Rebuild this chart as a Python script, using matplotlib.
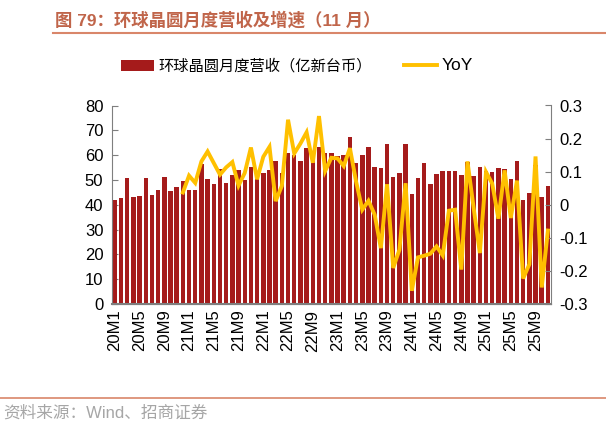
import numpy as np
import matplotlib
matplotlib.use("Agg")
import matplotlib.pyplot as plt
from matplotlib.lines import Line2D
from matplotlib.patches import Patch
from matplotlib.ticker import FuncFormatter

plt.rcParams['font.family'] = ['Liberation Sans', 'Noto Sans CJK SC', 'DejaVu Sans']

# 月份标签 20M1 ... 25M11
months = [f"{y}M{m}" for y in range(20, 26) for m in range(1, 13)][:71]

# 环球晶圆月度营收（亿新台币）
revenue = [42.1, 42.9, 50.7, 43.3, 43.7, 50.8, 43.9, 45.8, 51.2, 45.4, 47.1, 49.5,
           45.8, 45.8, 56.6, 50.2, 48.3, 54.3, 48.6, 51.8, 53.9, 49.9, 55.2, 53.0,
           52.7, 54.0, 57.7, 52.9, 60.7, 60.0, 57.6, 63.0, 60.6, 63.3, 60.7, 61.0,
           59.6, 60.0, 67.4, 56.7, 59.9, 63.3, 55.3, 54.8, 64.6, 51.2, 52.6, 64.6,
           44.3, 50.6, 56.9, 48.2, 52.2, 53.6, 53.8, 53.8, 51.8, 57.3, 51.5, 55.1,
           53.5, 53.4, 54.7, 54.3, 50.3, 57.5, 42.0, 44.6, 56.0, 43.2, 47.5]

# YoY（20M12 起）
yoy = [np.nan] * 11 + [
    0.037,
    0.088, 0.066, 0.131, 0.161, 0.126, 0.091, 0.113, 0.129, 0.058, 0.096, 0.173, 0.077,
    0.145, 0.175, 0.011, 0.057, 0.257, 0.155, 0.185, 0.219, 0.127, 0.268, 0.102, 0.142,
    0.140, 0.117, 0.171, 0.070, -0.015, 0.012, -0.030, -0.131, 0.062, -0.191, -0.136, 0.065,
    -0.260, -0.159, -0.154, -0.148, -0.126, -0.153, -0.018, -0.015, -0.196, 0.131, -0.010, -0.146,
    0.099, 0.064, -0.042, 0.104, -0.040, 0.073, -0.223, -0.180, 0.146, -0.250, -0.078]

bar_color = '#A51B1B'
line_color = '#FFC000'
title_color = '#C0654A'
rule_color = '#D9866A'
axis_gray = '#7F7F7F'

x = np.arange(len(months))

fig = plt.figure(figsize=(6.06, 4.33), dpi=100)
ax = fig.add_axes([111.7 / 606, 1 - 304 / 433, (551 - 111.7) / 606, (304 - 105.5) / 433])
ax2 = ax.twinx()

bars = ax.bar(x, revenue, width=0.72, color=bar_color, zorder=2)
line, = ax2.plot(x, yoy, color=line_color, lw=2.8, solid_joinstyle='miter', zorder=3)

ax.set_xlim(-0.5, len(months) - 0.5)
ax.set_ylim(0, 80)
ax.set_yticks(range(0, 81, 10))
ax2.set_ylim(-0.3, 0.3)
ax2.set_yticks([-0.3, -0.2, -0.1, 0, 0.1, 0.2, 0.3])
ax2.yaxis.set_major_formatter(FuncFormatter(lambda v, p: "0" if abs(v) < 1e-9 else f"{v:.1f}"))

ax.set_xticks(x[::4])
ax.set_xticklabels(months[::4], rotation=90, fontsize=12)
ax.set_xticks(x, minor=True)

for a in (ax, ax2):
    a.spines['top'].set_visible(False)
    for s in ('left', 'right', 'bottom'):
        a.spines[s].set_color(axis_gray)
    a.tick_params(axis='y', direction='in', length=4, color=axis_gray, labelsize=12, pad=6)
ax.spines['right'].set_visible(False)
ax2.spines['left'].set_visible(False)
ax.spines['bottom'].set_linewidth(1.5)
ax.tick_params(axis='x', which='both', direction='in', length=3, color=axis_gray, pad=4)

handles = [Patch(facecolor=bar_color, edgecolor='none'),
           Line2D([], [], color=line_color, lw=2.8)]
labels = ['环球晶圆月度营收（亿新台币）', 'YoY']
leg = fig.legend(handles, labels, loc='center', bbox_to_anchor=(0.49, 1 - 66 / 433), ncol=2,
                 frameon=False, fontsize=11, handlelength=2.15, handleheight=0.7,
                 handletextpad=0.3, columnspacing=2.1)
leg.get_texts()[1].set_fontsize(12.5)

fig.text(55 / 606, 1 - 20 / 433, '图 79：环球晶圆月度营收及增速（11 月）', fontsize=12.5,
         fontweight='bold', color=title_color, va='center', ha='left')
fig.add_artist(Line2D([53 / 606, 1], [1 - 33 / 433, 1 - 33 / 433], transform=fig.transFigure,
                      color=rule_color, lw=1.5))
fig.add_artist(Line2D([0, 1], [1 - 398 / 433, 1 - 398 / 433], transform=fig.transFigure,
                      color=rule_color, lw=1.2))
fig.text(3 / 606, 1 - 413 / 433, '资料来源：Wind、招商证券', fontsize=12, color='#A6A6A6',
         va='center', ha='left')

fig.savefig('out.png', dpi=100)
